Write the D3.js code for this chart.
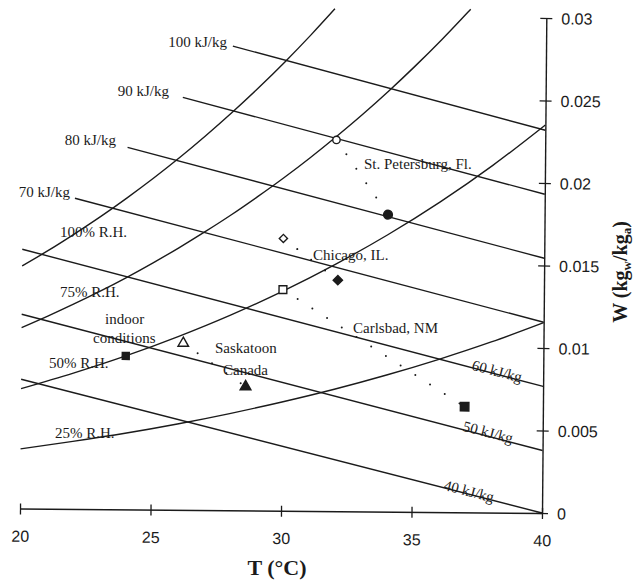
<!DOCTYPE html>
<html><head><meta charset="utf-8">
<script src="https://cdn.jsdelivr.net/npm/d3@7"></script>
<style>body{margin:0;background:#fff;} svg{display:block;background:#fff;}</style>
</head><body>
<svg id="chart" width="638" height="583"></svg>
<script>
// ---------------- data (T in °C, W in kg_w/kg_a) ----------------
const xTicks = [20, 25, 30, 35, 40];
const xTickLabels = ["20", "25", "30", "35", "40"];
const yTicks = [0, 0.005, 0.01, 0.015, 0.02, 0.025, 0.03];
const yTickLabels = ["0", "0.005", "0.01", "0.015", "0.02", "0.025", "0.03"];

// relative humidity curves
const rhNames = ["100% R.H.", "75% R.H.", "50% R.H.", "25% R.H."];
const rh100 = [[20,0.01470],[21,0.01565],[22,0.01667],[23,0.01774],[24,0.01888],[25,0.02008],[26,0.02135],[27,0.02270],[28,0.02412],[29,0.02562],[30,0.02720],[31,0.02887],[31.9,0.03045]];
const rh75 = [[20,0.01096],[21,0.01167],[22,0.01242],[23,0.01321],[24,0.01405],[25,0.01494],[26,0.01588],[27,0.01687],[28,0.01791],[29,0.01902],[30,0.02018],[31,0.02141],[32,0.02271],[33,0.02407],[34,0.02551],[35,0.02703],[36,0.02863],[37,0.03032],[37.1,0.03049]];
const rh50 = [[20,0.00726],[22,0.00823],[24,0.00930],[26,0.01050],[28,0.01183],[30,0.01331],[32,0.01496],[34,0.01678],[36,0.01880],[38,0.02104],[40,0.02352]];
const rh25 = [[20,0.00361],[22,0.00409],[24,0.00461],[26,0.00520],[28,0.00586],[30,0.00659],[32,0.00739],[34,0.00828],[36,0.00926],[38,0.01034],[40,0.01154]];

// constant enthalpy lines
const hNames = ["100 kJ/kg", "90 kJ/kg", "80 kJ/kg", "70 kJ/kg", "60 kJ/kg", "50 kJ/kg", "40 kJ/kg"];
const h100 = [[28.0,0.02813],[40,0.02320]];
const h90 = [[26.1,0.02500],[40,0.01932]];
const h80 = [[24.0,0.02194],[40,0.01544]];
const h70 = [[22.0,0.01883],[40,0.01156]];
const h60 = [[20,0.01571],[40,0.00767]];
const h50 = [[20,0.01177],[40,0.00379]];
const h40 = [[20,0.00783],[40,0.00000]];

// city states: outdoor design (filled) and conditioned supply (open)
const cities = ["St. Petersburg, Fl.", "Chicago, IL.", "Carlsbad, NM", "Saskatoon Canada"];
const outdoorStates = [[34.0,0.0180],[32.1,0.0140],[37.0,0.0064],[28.6,0.0075]];
const cooledStates  = [[32.0,0.0225],[30.0,0.0165],[30.0,0.0134],[26.2,0.0101]];
const indoorState = [24.0, 0.0093];

// ---------------- drawing ----------------
const INK = "#1b1b1b";
const SERIF = "'Liberation Serif','Times New Roman',serif";
const SANS = "'Liberation Sans',Arial,sans-serif";
const svg = d3.select("#chart");

const x = d3.scaleLinear().domain([20, 40]).range([20, 542]);
const y = d3.scaleLinear().domain([0, 0.03]).range([513, 18]);

// the scanned figure is very slightly rotated
const g = svg.append("g").attr("transform", "rotate(0.5,543,513)");

const line = d3.line().x(d => x(d[0])).y(d => y(d[1])).curve(d3.curveMonotoneX);

[rh100, rh75, rh50, rh25, h100, h90, h80, h70, h60, h50, h40].forEach(s => {
  g.append("path").attr("d", line(s)).attr("fill", "none")
    .attr("stroke", INK).attr("stroke-width", 1.4);
});

// dotted process paths
cooledStates.forEach((c, i) => {
  g.append("path").attr("d", d3.line().x(d => x(d[0])).y(d => y(d[1]))([c, outdoorStates[i]]))
    .attr("fill", "none").attr("stroke", INK).attr("stroke-width", 2)
    .attr("stroke-linecap", "round").attr("stroke-dasharray", "0 17.5");
});

// axes
const gx = g.append("g").attr("transform", `translate(0,${y(0)})`)
  .call(d3.axisBottom(x).tickValues(xTicks).tickFormat((d, i) => xTickLabels[i]).tickSize(5).tickSizeOuter(0))
  .attr("font-family", SANS).attr("font-size", 16);
gx.select(".domain").attr("stroke", INK).attr("stroke-width", 1.4);
gx.selectAll(".tick line").attr("y1", -5).attr("y2", 6).attr("stroke", INK).attr("stroke-width", 1.3);
gx.selectAll(".tick text").attr("y", 22).attr("dy", "0.71em").attr("fill", INK);

const gy = g.append("g").attr("transform", `translate(${x(40)},0)`)
  .call(d3.axisRight(y).tickValues(yTicks).tickFormat((d, i) => yTickLabels[i]).tickSize(6).tickSizeOuter(0))
  .attr("font-family", SANS).attr("font-size", 16);
gy.select(".domain").attr("stroke", INK).attr("stroke-width", 1.4);
gy.selectAll(".tick line").attr("x1", -6).attr("x2", 6).attr("stroke", INK).attr("stroke-width", 1.3);
gy.selectAll(".tick text").attr("x", 15).attr("dy", "0.36em").attr("fill", INK);

// markers
const shapes = ["circle", "diamond", "square", "triangle"];
function marker(p, shape, filled, size) {
  const gg = g.append("g").attr("transform", `translate(${x(p[0])},${y(p[1])})`);
  let el;
  if (shape === "circle") el = gg.append("circle").attr("r", size);
  else if (shape === "diamond") el = gg.append("path").attr("d", d3.symbol(d3.symbolSquare, size * size)()).attr("transform", "rotate(45)");
  else if (shape === "square") el = gg.append("path").attr("d", d3.symbol(d3.symbolSquare, size * size)());
  else el = gg.append("path").attr("d", d3.symbol(d3.symbolTriangle, size * size * 0.62)());
  el.attr("fill", filled ? INK : "#fff").attr("stroke", INK).attr("stroke-width", 1.4);
}
const openSizes = [3.7, 5.8, 7.8, 8.8];
const fillSizes = [4.4, 6.6, 8.5, 9];
cooledStates.forEach((p, i) => marker(p, shapes[i], false, openSizes[i]));
outdoorStates.forEach((p, i) => marker(p, shapes[i], true, fillSizes[i]));
marker(indoorState, "square", true, 7);

// ---------------- annotations (layout, pixel positions) ----------------
const leftLabels = [
  [hNames[0], 227, 47, "end"], [hNames[1], 169, 96, "end"], [hNames[2], 116, 145, "end"], [hNames[3], 70, 197, "end"],
  [rhNames[0], 60, 237, "start"], [rhNames[1], 60, 297, "start"], [rhNames[2], 49, 368, "start"], [rhNames[3], 55, 438, "start"],
  [cities[0], 364, 169, "start"], [cities[1], 313, 260, "start"], [cities[2], 353, 333, "start"],
  ["Saskatoon", 215, 353, "start"], ["Canada", 223, 375, "start"],
  ["indoor", 105, 324, "start"], ["conditions", 93, 343, "start"]
];
leftLabels.forEach(l => {
  svg.append("text").attr("x", l[1]).attr("y", l[2]).attr("text-anchor", l[3])
    .attr("font-family", SERIF).attr("font-size", 15).attr("fill", INK).text(l[0]);
});
const slopedLabels = [[hNames[4], 497, 371], [hNames[5], 488, 432], [hNames[6], 469, 491]];
slopedLabels.forEach(l => {
  svg.append("text").attr("transform", `translate(${l[1]},${l[2]}) rotate(14.5)`)
    .attr("text-anchor", "middle").attr("dy", "0.35em")
    .attr("font-family", SERIF).attr("font-size", 15).attr("fill", INK).text(l[0]);
});

// axis titles
svg.append("text").attr("x", 277).attr("y", 575).attr("text-anchor", "middle")
  .attr("font-family", SERIF).attr("font-size", 22).attr("font-weight", "bold").attr("fill", INK)
  .text("T (°C)");
const yt = svg.append("text").attr("transform", "translate(627,272) rotate(-90)").attr("text-anchor", "middle")
  .attr("font-family", SERIF).attr("font-size", 20).attr("font-weight", "bold").attr("fill", INK);
yt.append("tspan").text("W (kg");
yt.append("tspan").attr("font-size", 13).attr("dy", 4).text("w");
yt.append("tspan").attr("dy", -4).text("/kg");
yt.append("tspan").attr("font-size", 13).attr("dy", 4).text("a");
yt.append("tspan").attr("dy", -4).text(")");
</script>
</body></html>
